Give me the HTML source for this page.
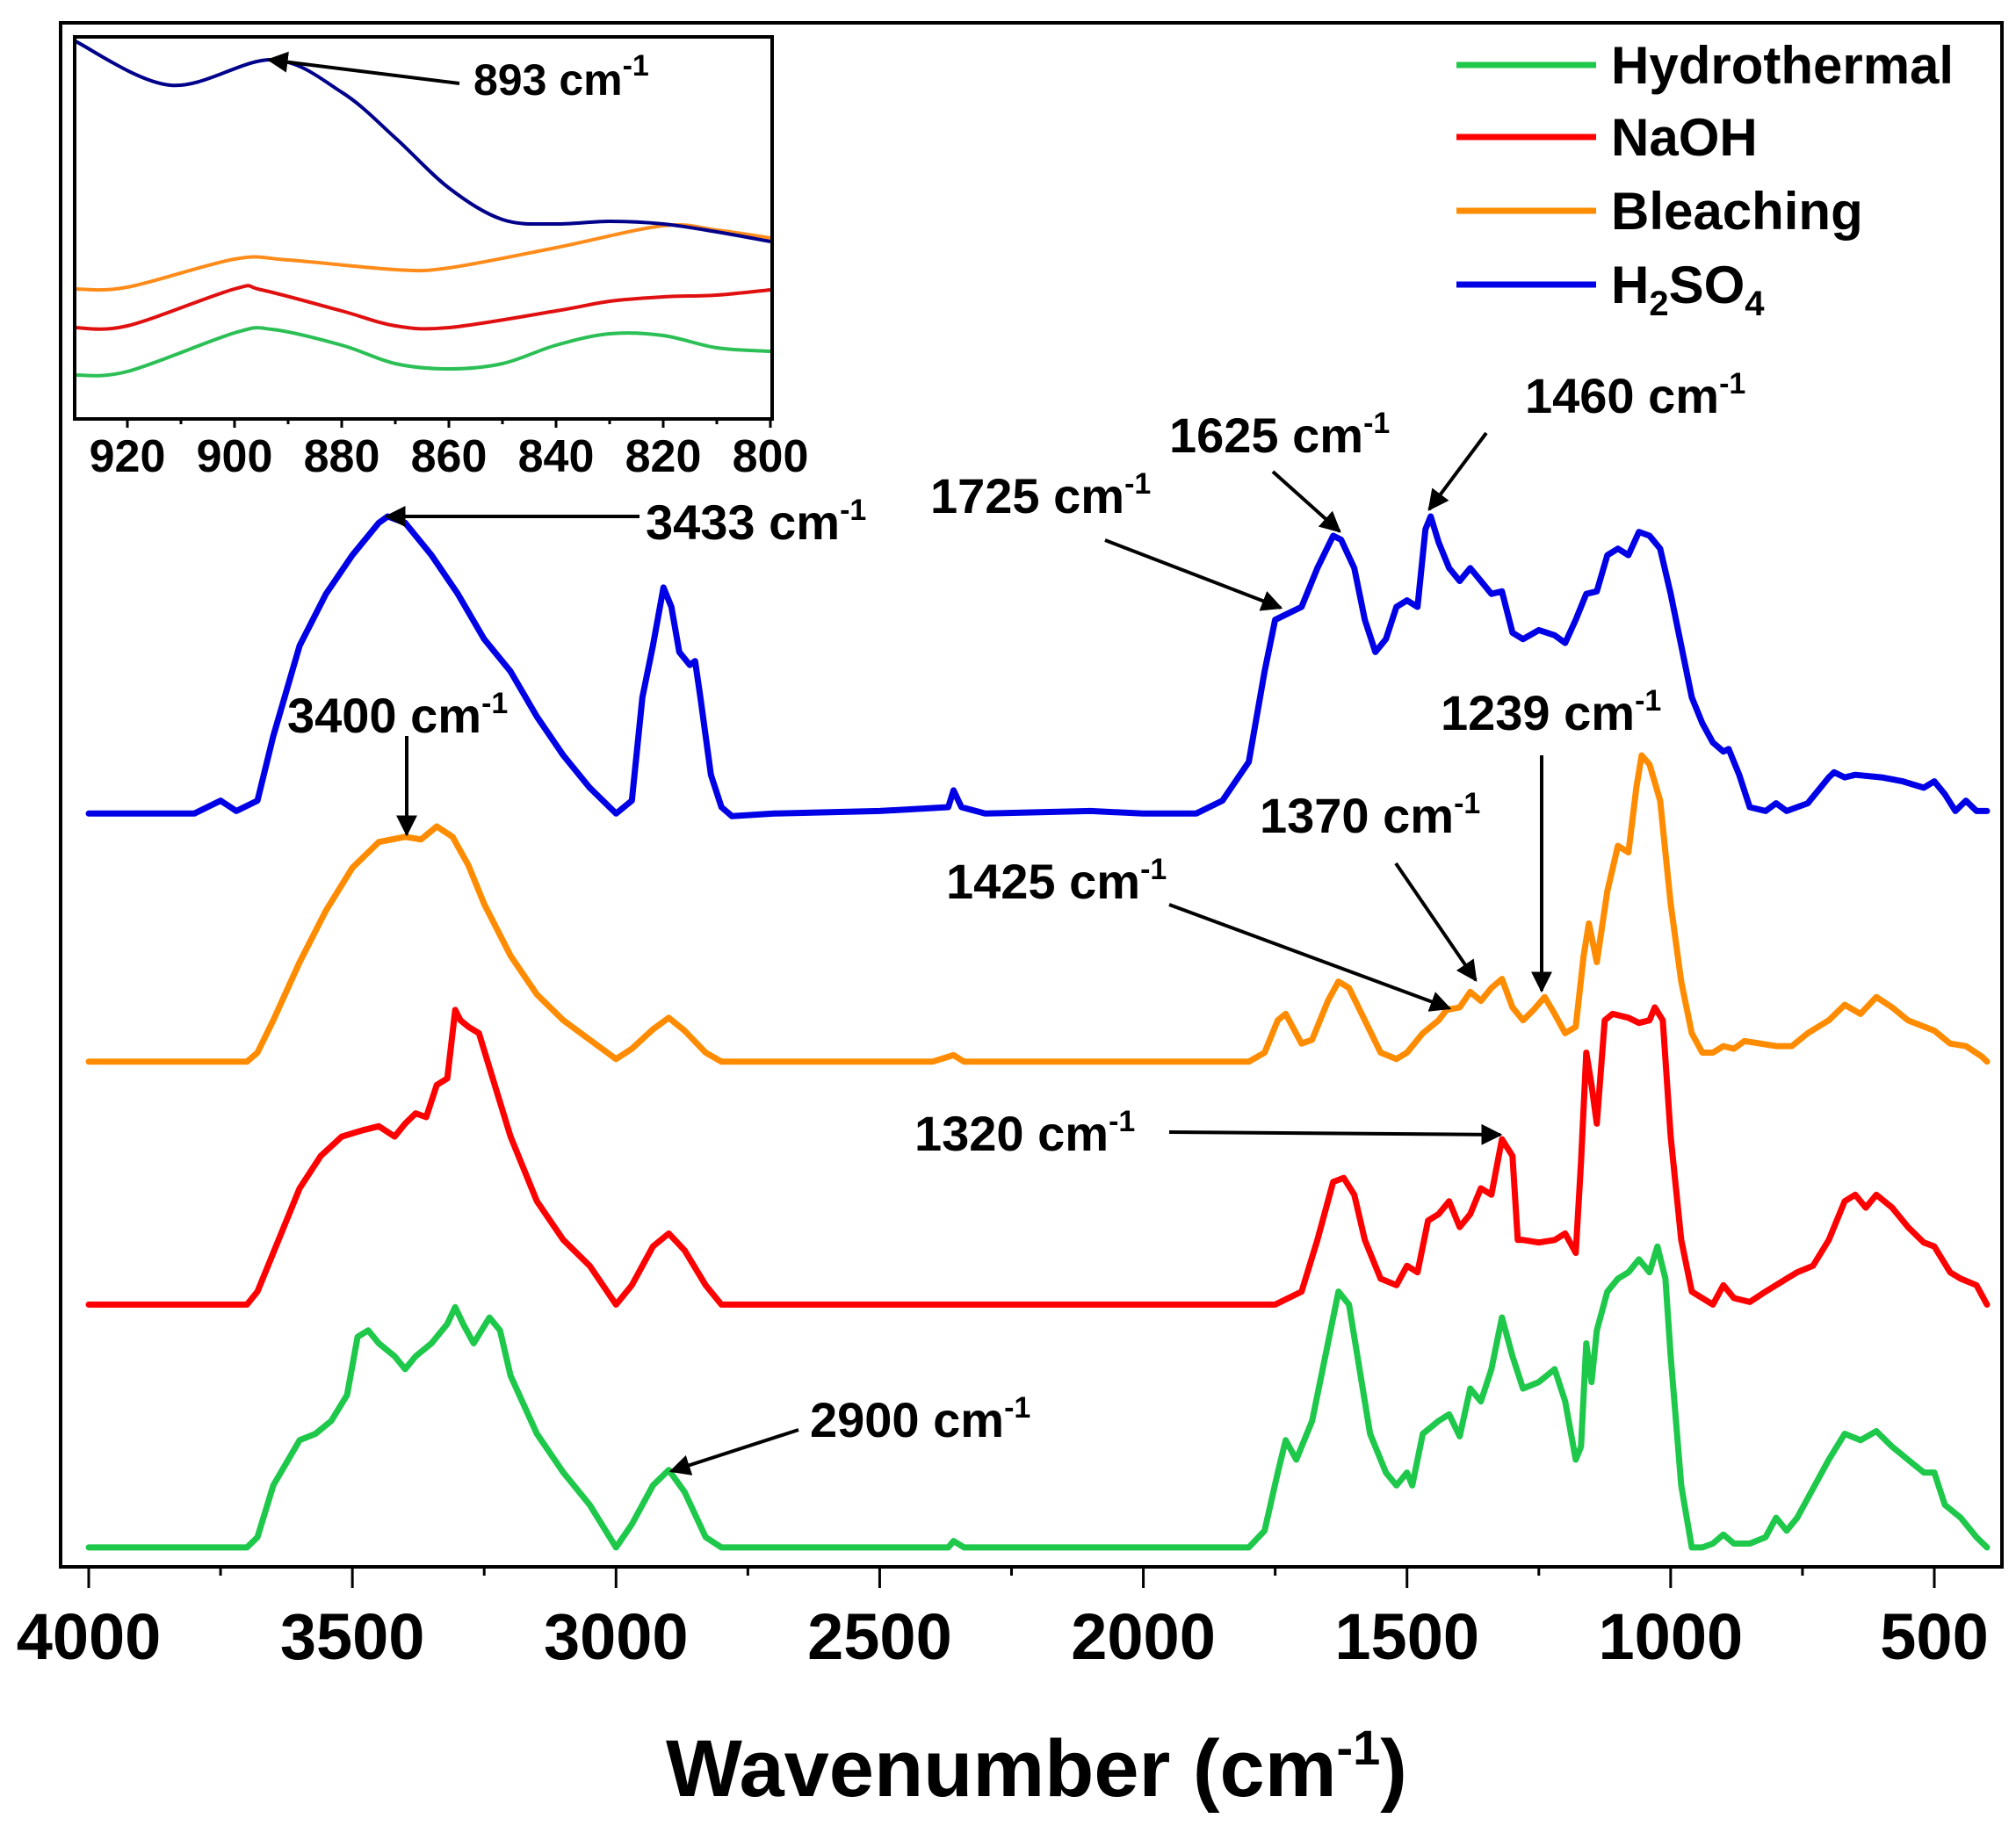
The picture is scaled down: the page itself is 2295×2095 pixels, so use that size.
<!DOCTYPE html>
<html><head><meta charset="utf-8"><style>
html,body{margin:0;padding:0;background:#fff}
svg{display:block;font-family:"Liberation Sans",Arial,sans-serif;font-weight:bold}
</style></head><body>
<svg id="chart" width="2295" height="2095" viewBox="0 0 2295 2095">
<rect x="0" y="0" width="2295" height="2095" fill="#fff"/>
<g id="main"></g>
<g id="inset"></g>
<g id="annot"></g>
<g id="legend"></g>
</svg>
<script>
// ---- main chart data (relative intensity above each trace's own baseline, a.u.) ----
const seriesNames = ["Hydrothermal","NaOH","Bleaching","H2SO4"];
const seriesColors = ["#1ec84a","#ff0000","#ff8c00","#0000e6"];
const seriesOffsets = [15, 203, 391, 583];
const xTicks = [4000,3500,3000,2500,2000,1500,1000,500];

const greenWn = [4000,3700,3680,3650,3600,3570,3540,3510,3490,3470,3450,3420,3400,3380,3350,3320,3305,3290,3270,3240,3220,3200,3150,3100,3050,3000,2970,2930,2900,2870,2830,2800,2370,2360,2340,1800,1770,1745,1730,1710,1680,1650,1630,1610,1590,1570,1540,1520,1500,1490,1470,1440,1420,1400,1380,1360,1340,1320,1300,1280,1250,1220,1200,1180,1170,1160,1150,1140,1120,1100,1080,1060,1040,1025,1010,1000,980,960,940,920,900,880,850,820,800,780,760,740,700,670,640,610,580,550,520,500,480,450,420,400];
const greenVal = [0,0,8,48,83,88,98,118,163,168,158,148,138,148,158,173,186,173,158,178,168,133,88,58,33,0,18,48,60,43,8,0,0,5,0,0,13,58,83,68,98,158,198,188,138,88,58,48,58,48,88,98,103,86,123,113,138,178,148,123,128,138,113,68,78,158,128,168,198,208,213,223,213,233,208,148,48,0,0,3,10,3,3,8,23,13,23,38,68,88,83,90,78,68,58,58,33,23,8,0];

const redWn = [4000,3700,3680,3650,3600,3560,3520,3480,3450,3420,3400,3380,3360,3340,3320,3305,3295,3280,3260,3230,3200,3150,3100,3050,3000,2970,2930,2900,2870,2830,2800,1750,1700,1670,1640,1620,1600,1580,1550,1520,1500,1480,1460,1440,1420,1400,1380,1360,1340,1320,1300,1290,1280,1250,1220,1200,1180,1170,1160,1150,1140,1125,1110,1080,1060,1040,1030,1015,1000,980,960,940,920,900,880,850,820,800,780,760,730,700,670,650,630,610,580,550,520,500,470,450,420,400];
const redVal = [0,0,10,40,90,115,130,135,138,130,140,148,145,170,175,228,220,215,210,170,130,80,50,30,0,15,45,55,42,15,0,0,10,50,95,98,85,50,20,15,30,25,65,70,80,60,70,90,85,128,115,50,50,48,50,55,40,110,195,170,140,220,225,222,218,220,230,220,130,50,10,5,0,15,5,2,10,15,20,25,30,50,80,85,75,85,75,60,48,45,25,20,15,0];

const orangeWn = [4000,3700,3680,3650,3600,3550,3500,3450,3400,3370,3340,3310,3280,3250,3200,3150,3100,3050,3000,2970,2930,2900,2870,2830,2800,2400,2360,2340,1800,1770,1745,1730,1700,1680,1650,1630,1610,1580,1550,1520,1500,1470,1440,1425,1400,1380,1360,1340,1320,1300,1280,1260,1239,1220,1200,1180,1165,1155,1140,1120,1100,1080,1065,1055,1040,1020,1000,980,960,940,920,900,880,860,830,800,770,740,700,670,640,610,580,550,500,470,440,410,400];
const orangeVal = [0,0,7,32,77,117,150,170,174,172,182,174,152,122,82,52,32,17,2,10,25,34,24,7,0,0,5,0,0,7,32,37,14,17,47,62,57,32,7,2,7,22,32,40,42,54,47,57,64,42,32,40,50,37,22,27,82,107,77,132,167,162,212,237,230,202,122,62,22,7,7,12,10,16,14,12,12,22,32,44,37,50,42,32,24,14,12,4,0];

const blueWn = [4000,3800,3750,3720,3680,3650,3600,3550,3500,3450,3433,3400,3350,3300,3250,3200,3150,3100,3050,3000,2970,2950,2930,2910,2895,2880,2860,2850,2840,2820,2800,2780,2700,2500,2370,2360,2345,2300,2100,2000,1900,1850,1800,1770,1750,1725,1700,1670,1640,1625,1600,1580,1560,1540,1520,1500,1480,1465,1455,1440,1420,1400,1380,1360,1340,1320,1300,1280,1250,1220,1200,1180,1160,1140,1120,1100,1080,1060,1040,1020,1000,980,960,940,920,900,890,870,850,820,800,780,740,720,700,690,670,650,600,560,520,500,480,460,440,420,400];
const blueVal = [0,0,10,2,10,60,130,170,200,225,230,225,200,170,135,110,75,45,20,0,10,90,130,175,160,125,115,118,90,30,5,-2,0,2,5,18,5,0,2,0,0,10,40,110,150,155,160,190,215,212,190,150,125,135,160,165,160,220,230,210,190,180,190,180,170,172,140,135,142,138,132,150,170,172,200,205,200,218,215,205,170,130,90,70,55,48,50,30,5,2,8,2,8,18,28,32,28,30,28,25,20,25,15,2,10,2,2];

// ---- inset data ----
const insetTicks = [920,900,880,860,840,820,800];
const insetGreenWn = [930,920,900,893,880,870,860,850,840,830,820,810,800];
const insetGreenVal = [50,54,98,102,84,63,57,63,84,97,95,81,77];
const insetRedWn = [930,920,900,895,880,870,860,840,830,820,810,800];
const insetRedVal = [104,106,148,147,123,106,104,123,134,139,141,147];
const insetOrangeWn = [930,920,900,890,870,860,840,820,810,800];
const insetOrangeVal = [148,150,182,181,170,172,195,220,215,206];
const insetBlueWn = [930,912,893,880,870,860,850,840,830,820,810,800];
const insetBlueVal = [431,380,409,372,320,263,227,222,225,222,213,202];

const NS = "http://www.w3.org/2000/svg";
function mk(tag, attrs, parent){const e=document.createElementNS(NS,tag);for(const k in attrs)e.setAttribute(k,attrs[k]);parent.appendChild(e);return e;}

const M = {l:69, r:2279, t:26, b:1784};
function xS(w){return 101 + (4000-w)*(2202-101)/3500;}
function yS(v){return M.b - v*(M.b-M.t)/1195;}
const main = document.getElementById('main');

function linePath(pts){
  return pts.map((p,i)=>(i?"L":"M")+p[0].toFixed(1)+","+p[1].toFixed(1)).join(" ");
}

const mainSeries = [[greenWn,greenVal],[redWn,redVal],[orangeWn,orangeVal],[blueWn,blueVal]];
const seriesKeys = ["hydrothermal","naoh","bleaching","h2so4"];
mainSeries.forEach((s,i)=>{
  const pts = s[0].map((w,j)=>[xS(w), yS(seriesOffsets[i]+s[1][j])]);
  const p = mk('path',{d:linePath(pts),fill:'none',stroke:seriesColors[i],'stroke-width':7,'stroke-linejoin':'round','stroke-linecap':'round'},main);
  
  
});

const frame = mk('rect',{x:M.l,y:M.t,width:M.r-M.l,height:M.b-M.t,fill:'none',stroke:'#000','stroke-width':4},main);



for(let w=4000; w>=500; w-=250){
  const major = (w%500===0);
  const t = mk('line',{x1:xS(w),x2:xS(w),y1:M.b,y2:M.b+(major?24:10),stroke:'#000','stroke-width':3},main);
  
  
}
xTicks.forEach(w=>{
  const t = mk('text',{x:xS(w),y:1889,'text-anchor':'middle','font-size':74,fill:'#000'},main);
  t.textContent = w;
  
  
});
const xt = mk('text',{x:1180,y:2045,'text-anchor':'middle','font-size':92,fill:'#000'},main);
xt.innerHTML = 'Wavenumber (cm<tspan dy="-36" font-size="56">-1</tspan><tspan dy="36">)</tspan>';



// inset
const I = {l:85, r:879, t:42, b:477};
function ixS(w){return 145 + (920-w)*(877-145)/120;}
function iyS(v){return I.b - v*(I.b-I.t)/435;}
function smooth(pts){
  let d = "M"+pts[0][0].toFixed(1)+","+pts[0][1].toFixed(1);
  for(let i=0;i<pts.length-1;i++){
    const p0=pts[Math.max(0,i-1)],p1=pts[i],p2=pts[i+1],p3=pts[Math.min(pts.length-1,i+2)];
    const c1x=p1[0]+(p2[0]-p0[0])/6,c1y=p1[1]+(p2[1]-p0[1])/6;
    const c2x=p2[0]-(p3[0]-p1[0])/6,c2y=p2[1]-(p3[1]-p1[1])/6;
    d+=" C"+c1x.toFixed(1)+","+c1y.toFixed(1)+" "+c2x.toFixed(1)+","+c2y.toFixed(1)+" "+p2[0].toFixed(1)+","+p2[1].toFixed(1);
  }
  return d;
}
const inset = document.getElementById('inset');
mk('rect',{x:I.l,y:I.t,width:I.r-I.l,height:I.b-I.t,fill:'#fff'},inset);
const insetSeries = [[insetGreenWn,insetGreenVal],[insetRedWn,insetRedVal],[insetOrangeWn,insetOrangeVal],[insetBlueWn,insetBlueVal]];
const insetColors = ["#2bbf55","#e01010","#ff8c1a","#00008b"];
insetSeries.forEach((s,i)=>{
  const pts = s[0].map((w,j)=>[ixS(w), iyS(s[1][j])]);
  const p = mk('path',{d:smooth(pts),fill:'none',stroke:insetColors[i],'stroke-width':4},inset);
  
  
});
const iframe = mk('rect',{x:I.l,y:I.t,width:I.r-I.l,height:I.b-I.t,fill:'none',stroke:'#000','stroke-width':4},inset);


for(let w=920; w>=800; w-=10){
  const major=(w%20===0);
  const t = mk('line',{x1:ixS(w),x2:ixS(w),y1:I.b,y2:I.b+(major?10:6),stroke:'#000','stroke-width':3},inset);
  
  
}
insetTicks.forEach(w=>{
  const t = mk('text',{x:ixS(w),y:537,'text-anchor':'middle','font-size':52,fill:'#000'},inset);
  t.textContent = w;
  
  
});

// annotations
const annot = document.getElementById('annot');
const defs = mk('defs',{},document.getElementById('chart'));
const mkr = mk('marker',{id:'ah',viewBox:'0 0 10 10',refX:9,refY:5,markerWidth:6,markerHeight:6,orient:'auto-start-reverse'},defs);
mk('path',{d:'M0,0 L10,5 L0,10 z',fill:'#000'},mkr);
const labels = [
  ["893",539,108,523,95,306,68,50],
  ["3433",735,614,728,588,440,588,56],
  ["3400",327,834,463,838,463,950,56],
  ["1725",1059,584,1258,615,1458,692,56],
  ["1625",1331,515,1449,537,1525,605,56],
  ["1460",1736,470,1692,493,1627,580,56],
  ["1239",1640,831,1755,860,1755,1128,56],
  ["1370",1434,948,1589,983,1680,1116,56],
  ["1425",1077,1023,1331,1030,1650,1148,56],
  ["1320",1041,1310,1331,1289,1708,1292,56],
  ["2900",922,1636,909,1628,764,1675,56]
];
labels.forEach(a=>{
  const ln = mk('line',{x1:a[3],y1:a[4],x2:a[5],y2:a[6],stroke:'#000','stroke-width':4,'marker-end':'url(#ah)'},annot);
  
  
  const t = mk('text',{x:a[1],y:a[2],'font-size':a[7],fill:'#000'},annot);
  t.innerHTML = a[0]+' cm<tspan dy="-22" font-size="34">-1</tspan>';
  
  
});

// legend
const legend = document.getElementById('legend');
const legY = [74,156,240,324];
seriesNames.forEach((n,i)=>{
  const ln = mk('line',{x1:1658,x2:1817,y1:legY[i],y2:legY[i],stroke:seriesColors[i],'stroke-width':7},legend);
  
  
  const t = mk('text',{x:1834,y:legY[i]+21,'font-size':60,fill:'#000'},legend);
  if(n==="H2SO4"){t.innerHTML='H<tspan dy="14" font-size="40">2</tspan><tspan dy="-14">SO</tspan><tspan dy="14" font-size="40">4</tspan>';}
  else t.textContent = n;
  
  
});
</script>
</body></html>
